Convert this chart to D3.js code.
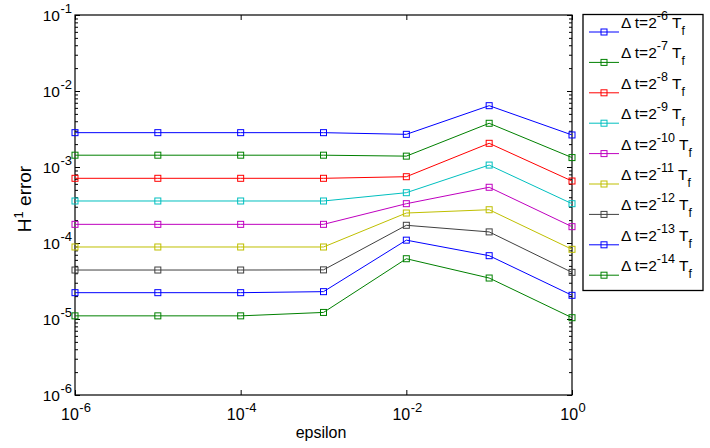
<!DOCTYPE html>
<html><head><meta charset="utf-8">
<script src="https://cdn.jsdelivr.net/npm/d3@7"></script>
<style>body{margin:0;background:#fff}svg{display:block}text{font-family:"Liberation Sans",Arial,sans-serif;fill:#000}</style>
</head><body>
<svg id="c" width="710" height="448"></svg>
<script>
const epsilon = [1e-6, 1e-5, 1e-4, 1e-3, 1e-2, 1e-1, 1];
const exps = [-6, -7, -8, -9, -10, -11, -12, -13, -14];
const colors = ["#0000ff", "#008000", "#ff0000", "#00bfbf", "#bf00bf", "#bfbf00", "#404040", "#0000ff", "#008000"];
const s6  = [2.83e-3, 2.83e-3, 2.83e-3, 2.83e-3, 2.69e-3, 6.41e-3, 2.64e-3];
const s7  = [1.43e-3, 1.43e-3, 1.43e-3, 1.43e-3, 1.39e-3, 3.76e-3, 1.33e-3];
const s8  = [7.10e-4, 7.10e-4, 7.10e-4, 7.10e-4, 7.45e-4, 2.05e-3, 6.54e-4];
const s9  = [3.57e-4, 3.57e-4, 3.57e-4, 3.57e-4, 4.59e-4, 1.06e-3, 3.29e-4];
const s10 = [1.76e-4, 1.76e-4, 1.76e-4, 1.76e-4, 3.29e-4, 5.41e-4, 1.64e-4];
const s11 = [8.86e-5, 8.86e-5, 8.86e-5, 8.86e-5, 2.48e-4, 2.74e-4, 8.26e-5];
const s12 = [4.41e-5, 4.41e-5, 4.41e-5, 4.43e-5, 1.71e-4, 1.40e-4, 4.11e-5];
const s13 = [2.22e-5, 2.22e-5, 2.22e-5, 2.29e-5, 1.09e-4, 6.81e-5, 2.05e-5];
const s14 = [1.10e-5, 1.10e-5, 1.10e-5, 1.22e-5, 6.21e-5, 3.46e-5, 1.04e-5];
const series = [s6, s7, s8, s9, s10, s11, s12, s13, s14];
const xTicks = [1e-6, 1e-4, 1e-2, 1];
const yTicks = [1e-6, 1e-5, 1e-4, 1e-3, 1e-2, 1e-1];

const svg = d3.select("#c");
const L = 75, R = 572, T = 15, B = 395;
const x = d3.scaleLog().domain([1e-6, 1]).range([L, R]);
const y = d3.scaleLog().domain([1e-6, 1e-1]).range([B, T]);

const minorY = [];
for (let e = -6; e < -1; e++) for (let k = 2; k <= 9; k++) minorY.push(k * Math.pow(10, e));
function styleAxis(g){ g.select(".domain").remove(); g.selectAll("line").attr("stroke","#000").attr("stroke-width",1); g.selectAll("text").remove(); }
svg.append("g").attr("transform",`translate(${L},0)`).call(d3.axisRight(y).tickValues(yTicks).tickSize(5)).call(styleAxis);
svg.append("g").attr("transform",`translate(${R},0)`).call(d3.axisLeft(y).tickValues(yTicks).tickSize(5)).call(styleAxis);
svg.append("g").attr("transform",`translate(${L},0)`).call(d3.axisRight(y).tickValues(minorY).tickSize(3)).call(styleAxis);
svg.append("g").attr("transform",`translate(${R},0)`).call(d3.axisLeft(y).tickValues(minorY).tickSize(3)).call(styleAxis);
svg.append("g").attr("transform",`translate(0,${B})`).call(d3.axisTop(x).tickValues(xTicks).tickSize(5)).call(styleAxis);
svg.append("g").attr("transform",`translate(0,${T})`).call(d3.axisBottom(x).tickValues(xTicks).tickSize(5)).call(styleAxis);

svg.append("rect").attr("x",L).attr("y",T).attr("width",R-L).attr("height",B-T)
  .attr("fill","none").attr("stroke","#000").attr("stroke-width",1.2);

function expLabel(sel, v){
  const e = Math.round(Math.log10(v));
  sel.append("tspan").text("10");
  sel.append("tspan").attr("dy",-8).attr("dx",0.5).attr("font-size",13).text(e === 0 ? "0" : "-" + Math.abs(e));
}
xTicks.forEach(v=>{
  const t = svg.append("text").attr("x",x(v)+1).attr("y",420).attr("text-anchor","middle").attr("font-size",16);
  expLabel(t, v);
});
yTicks.forEach(v=>{
  const t = svg.append("text").attr("x",72).attr("y",y(v)+6).attr("text-anchor","end").attr("font-size",15.5);
  expLabel(t, v);
});

svg.append("text").attr("x",321).attr("y",438).attr("text-anchor","middle").attr("font-size",16).text("epsilon");
const yl = svg.append("text").attr("transform","translate(31,199) rotate(-90)").attr("text-anchor","middle").attr("font-size",19);
yl.append("tspan").text("H");
yl.append("tspan").attr("dy",-8).attr("font-size",13).text("1");
yl.append("tspan").attr("dy",8).text(" error");

const line = d3.line().x((d,i)=>x(epsilon[i])).y(d=>y(d));
series.forEach((s,k)=>{
  svg.append("path").datum(s).attr("d",line).attr("fill","none").attr("stroke",colors[k]).attr("stroke-width",1);
  svg.selectAll(null).data(s).enter().append("rect")
    .attr("x",(d,i)=>x(epsilon[i])-3).attr("y",d=>y(d)-3).attr("width",6).attr("height",6)
    .attr("fill","none").attr("stroke",colors[k]).attr("stroke-width",1);
});

svg.append("rect").attr("x",583).attr("y",14.5).attr("width",120).attr("height",276)
  .attr("fill","#fff").attr("stroke","#000").attr("stroke-width",1.3);
exps.forEach((e,k)=>{
  const ly = 32 + k*30.4;
  svg.append("line").attr("x1",589).attr("x2",619).attr("y1",ly).attr("y2",ly).attr("stroke",colors[k]).attr("stroke-width",1);
  svg.append("rect").attr("x",601).attr("y",ly-3).attr("width",6).attr("height",6).attr("fill","none").attr("stroke",colors[k]);
  const t = svg.append("text").attr("x",621).attr("y",ly-4).attr("font-size",15.5);
  t.append("tspan").text("\u0394 t=2");
  t.append("tspan").attr("dy",-8).attr("font-size",12.5).text("-" + Math.abs(e));
  t.append("tspan").attr("dy",8).text(" T");
  t.append("tspan").attr("dy",7).attr("font-size",12).text("f");
});
</script>
</body></html>
